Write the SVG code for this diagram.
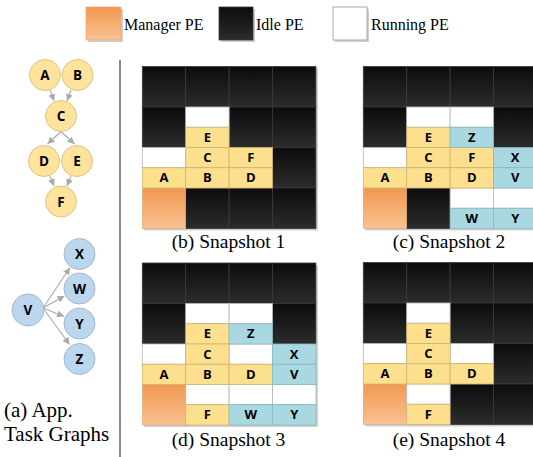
<svg xmlns="http://www.w3.org/2000/svg" width="533" height="457" viewBox="0 0 533 457">
<defs>
<linearGradient id="gIdle" x1="0" y1="0" x2="0" y2="1"><stop offset="0" stop-color="#0c0c0c"/><stop offset="1" stop-color="#2c2c2c"/></linearGradient>
<linearGradient id="gMgr" x1="0" y1="0" x2="0" y2="1"><stop offset="0" stop-color="#f29850"/><stop offset="1" stop-color="#f9c291"/></linearGradient>
<marker id="arr" markerUnits="userSpaceOnUse" markerWidth="8" markerHeight="8" refX="7" refY="3.5" orient="auto"><path d="M0,0 L7,3.5 L0,7 z" fill="#aaaaaa"/></marker>
</defs>
<style>
.idle{fill:url(#gIdle);stroke:#3a3a3a;stroke-width:0.8}
.mgr{fill:url(#gMgr);stroke:#d9a779;stroke-width:0.6}
.run{fill:#ffffff;stroke:#b5b5b5;stroke-width:0.8}
.yl{fill:#fde08e;stroke:#cdb571;stroke-width:0.8}
.bl{fill:#a9d8e1;stroke:#88b9c3;stroke-width:0.8}
.ct{font-family:"Open Sans","DejaVu Sans",sans-serif;font-weight:bold;font-size:13px;fill:#000;text-anchor:middle}
.nt{font-family:"Open Sans","DejaVu Sans",sans-serif;font-weight:bold;font-size:13.5px;fill:#000;text-anchor:middle}
.cap{font-family:"Liberation Serif","Times New Roman",serif;font-size:19.5px;fill:#000}
.lg{font-family:"Liberation Serif","Times New Roman",serif;font-size:16px;fill:#000}
.ny{fill:#fde39b;stroke:#dcc587;stroke-width:1}
.nb{fill:#bcd6ee;stroke:#a2b9cf;stroke-width:1}
.edge{stroke:#aaaaaa;stroke-width:1.1;fill:none;marker-end:url(#arr)}
.sh{fill:#cfcfcf}
</style>

<!-- legend -->
<g id="legend">
<rect class="sh" x="88" y="9" width="35" height="33"/>
<rect class="mgr" x="86" y="7" width="35" height="33"/>
<text class="lg" x="124" y="30">Manager PE</text>
<rect class="sh" x="221" y="9" width="34" height="33"/>
<rect class="idle" x="219" y="7" width="34" height="33"/>
<text class="lg" x="256" y="30">Idle PE</text>
<rect class="sh" x="335" y="9" width="34" height="33"/>
<rect x="333" y="7" width="34" height="33" fill="#fff" stroke="#aaaaaa" stroke-width="1"/>
<text class="lg" x="371" y="30">Running PE</text>
</g>

<line id="divider" x1="120" y1="60" x2="120" y2="457" stroke="#666" stroke-width="1.5"/>

<!-- task graph connectors -->
<g id="connectors">
<path class="edge" d="M50,90 L54,101"/>
<path class="edge" d="M71,90 L67,101"/>
<path class="edge" d="M61,131.5 L47.5,144"/>
<path class="edge" d="M61,131.5 L74.5,144"/>
<path class="edge" d="M50,176 L54,186"/>
<path class="edge" d="M71,176 L67,186"/>
<path class="edge" d="M43,308 L70,267.5"/>
<path class="edge" d="M43,308 L64.5,296"/>
<path class="edge" d="M43,308 L64,316.5"/>
<path class="edge" d="M43,308 L69.5,344.5"/>
</g>

<g id="nA"><circle class="ny" cx="45" cy="75" r="15.5"/><text class="nt" x="45" y="80">A</text></g>
<g id="nB"><circle class="ny" cx="77.5" cy="75" r="15.5"/><text class="nt" x="77.5" y="80">B</text></g>
<g id="nC"><circle class="ny" cx="61" cy="116" r="15.5"/><text class="nt" x="61" y="121">C</text></g>
<g id="nD"><circle class="ny" cx="44" cy="161" r="15.5"/><text class="nt" x="44" y="166">D</text></g>
<g id="nE"><circle class="ny" cx="77" cy="161" r="15.5"/><text class="nt" x="77" y="166">E</text></g>
<g id="nF"><circle class="ny" cx="61" cy="201.5" r="15.5"/><text class="nt" x="61" y="206.5">F</text></g>

<g id="nV"><circle class="nb" cx="28" cy="310" r="16"/><text class="nt" x="28" y="315">V</text></g>
<g id="nX"><circle class="nb" cx="79.5" cy="254" r="15.5"/><text class="nt" x="79.5" y="259">X</text></g>
<g id="nW"><circle class="nb" cx="79.5" cy="288.5" r="15.5"/><text class="nt" x="79.5" y="293.5">W</text></g>
<g id="nY"><circle class="nb" cx="79.5" cy="323.5" r="15.5"/><text class="nt" x="79.5" y="328.5">Y</text></g>
<g id="nZ"><circle class="nb" cx="79.5" cy="359" r="15.5"/><text class="nt" x="79.5" y="364">Z</text></g>

<text class="cap" x="4" y="417" style="font-size:21px">(a) App.</text>
<text class="cap" x="4" y="441" style="font-size:21px">Task Graphs</text>

<!-- Snapshot 1 -->
<g id="snap1" transform="translate(142.3,66.5)">
<rect class="sh" x="2" y="2" width="173.6" height="162"/>
<rect class="idle" x="0" y="0" width="43.4" height="40.5"/>
<rect class="idle" x="43.4" y="0" width="43.4" height="40.5"/>
<rect class="idle" x="86.8" y="0" width="43.4" height="40.5"/>
<rect class="idle" x="130.2" y="0" width="43.4" height="40.5"/>
<rect class="idle" x="0" y="40.5" width="43.4" height="40.5"/>
<rect class="idle" x="86.8" y="40.5" width="43.4" height="40.5"/>
<rect class="idle" x="130.2" y="40.5" width="43.4" height="40.5"/>
<rect class="idle" x="130.2" y="81" width="43.4" height="40.5"/>
<rect class="idle" x="43.4" y="121.5" width="43.4" height="40.5"/>
<rect class="idle" x="86.8" y="121.5" width="43.4" height="40.5"/>
<rect class="idle" x="130.2" y="121.5" width="43.4" height="40.5"/>
<rect class="mgr" x="0" y="121.5" width="43.4" height="40.5"/>
<rect class="run" x="43.4" y="40.5" width="43.4" height="20.25"/>
<rect class="run" x="0" y="81" width="43.4" height="20.25"/>
<rect class="yl" x="43.4" y="60.75" width="43.4" height="20.25"/><text class="ct" x="65.1" y="75.4">E</text>
<rect class="yl" x="0" y="101.25" width="43.4" height="20.25"/><text class="ct" x="21.7" y="115.9">A</text>
<rect class="yl" x="43.4" y="81" width="43.4" height="20.25"/><text class="ct" x="65.1" y="95.6">C</text>
<rect class="yl" x="43.4" y="101.25" width="43.4" height="20.25"/><text class="ct" x="65.1" y="115.9">B</text>
<rect class="yl" x="86.8" y="81" width="43.4" height="20.25"/><text class="ct" x="108.5" y="95.6">F</text>
<rect class="yl" x="86.8" y="101.25" width="43.4" height="20.25"/><text class="ct" x="108.5" y="115.9">D</text>
</g>
<text class="cap" x="228.5" y="248" text-anchor="middle">(b) Snapshot 1</text>

<!-- Snapshot 2 -->
<g id="snap2" transform="translate(363.3,66.5)">
<rect class="sh" x="2" y="2" width="173.6" height="162"/>
<rect class="idle" x="0" y="0" width="43.4" height="40.5"/>
<rect class="idle" x="43.4" y="0" width="43.4" height="40.5"/>
<rect class="idle" x="86.8" y="0" width="43.4" height="40.5"/>
<rect class="idle" x="130.2" y="0" width="43.4" height="40.5"/>
<rect class="idle" x="0" y="40.5" width="43.4" height="40.5"/>
<rect class="idle" x="130.2" y="40.5" width="43.4" height="40.5"/>
<rect class="idle" x="43.4" y="121.5" width="43.4" height="40.5"/>
<rect class="mgr" x="0" y="121.5" width="43.4" height="40.5"/>
<rect class="run" x="43.4" y="40.5" width="43.4" height="20.25"/>
<rect class="run" x="86.8" y="40.5" width="43.4" height="20.25"/>
<rect class="run" x="0" y="81" width="43.4" height="20.25"/>
<rect class="run" x="86.8" y="121.5" width="43.4" height="20.25"/>
<rect class="run" x="130.2" y="121.5" width="43.4" height="20.25"/>
<rect class="yl" x="43.4" y="60.75" width="43.4" height="20.25"/><text class="ct" x="65.1" y="75.4">E</text>
<rect class="yl" x="0" y="101.25" width="43.4" height="20.25"/><text class="ct" x="21.7" y="115.9">A</text>
<rect class="yl" x="43.4" y="81" width="43.4" height="20.25"/><text class="ct" x="65.1" y="95.6">C</text>
<rect class="yl" x="43.4" y="101.25" width="43.4" height="20.25"/><text class="ct" x="65.1" y="115.9">B</text>
<rect class="yl" x="86.8" y="81" width="43.4" height="20.25"/><text class="ct" x="108.5" y="95.6">F</text>
<rect class="yl" x="86.8" y="101.25" width="43.4" height="20.25"/><text class="ct" x="108.5" y="115.9">D</text>
<rect class="bl" x="86.8" y="60.75" width="43.4" height="20.25"/><text class="ct" x="108.5" y="75.4">Z</text>
<rect class="bl" x="130.2" y="81" width="43.4" height="20.25"/><text class="ct" x="151.9" y="95.6">X</text>
<rect class="bl" x="130.2" y="101.25" width="43.4" height="20.25"/><text class="ct" x="151.9" y="115.9">V</text>
<rect class="bl" x="86.8" y="141.75" width="43.4" height="20.25"/><text class="ct" x="108.5" y="156.4">W</text>
<rect class="bl" x="130.2" y="141.75" width="43.4" height="20.25"/><text class="ct" x="151.9" y="156.4">Y</text>
</g>
<text class="cap" x="449" y="248" text-anchor="middle">(c) Snapshot 2</text>

<!-- Snapshot 3 -->
<g id="snap3" transform="translate(142.3,263)">
<rect class="sh" x="2" y="2" width="173.6" height="162"/>
<rect class="idle" x="0" y="0" width="43.4" height="40.5"/>
<rect class="idle" x="43.4" y="0" width="43.4" height="40.5"/>
<rect class="idle" x="86.8" y="0" width="43.4" height="40.5"/>
<rect class="idle" x="130.2" y="0" width="43.4" height="40.5"/>
<rect class="idle" x="0" y="40.5" width="43.4" height="40.5"/>
<rect class="idle" x="130.2" y="40.5" width="43.4" height="40.5"/>
<rect class="mgr" x="0" y="121.5" width="43.4" height="40.5"/>
<rect class="run" x="43.4" y="40.5" width="43.4" height="20.25"/>
<rect class="run" x="86.8" y="40.5" width="43.4" height="20.25"/>
<rect class="run" x="0" y="81" width="43.4" height="20.25"/>
<rect class="run" x="86.8" y="81" width="43.4" height="20.25"/>
<rect class="run" x="43.4" y="121.5" width="43.4" height="20.25"/>
<rect class="run" x="86.8" y="121.5" width="43.4" height="20.25"/>
<rect class="run" x="130.2" y="121.5" width="43.4" height="20.25"/>
<rect class="yl" x="43.4" y="60.75" width="43.4" height="20.25"/><text class="ct" x="65.1" y="75.4">E</text>
<rect class="yl" x="0" y="101.25" width="43.4" height="20.25"/><text class="ct" x="21.7" y="115.9">A</text>
<rect class="yl" x="43.4" y="81" width="43.4" height="20.25"/><text class="ct" x="65.1" y="95.6">C</text>
<rect class="yl" x="43.4" y="101.25" width="43.4" height="20.25"/><text class="ct" x="65.1" y="115.9">B</text>
<rect class="yl" x="86.8" y="101.25" width="43.4" height="20.25"/><text class="ct" x="108.5" y="115.9">D</text>
<rect class="yl" x="43.4" y="141.75" width="43.4" height="20.25"/><text class="ct" x="65.1" y="156.4">F</text>
<rect class="bl" x="86.8" y="60.75" width="43.4" height="20.25"/><text class="ct" x="108.5" y="75.4">Z</text>
<rect class="bl" x="130.2" y="81" width="43.4" height="20.25"/><text class="ct" x="151.9" y="95.6">X</text>
<rect class="bl" x="130.2" y="101.25" width="43.4" height="20.25"/><text class="ct" x="151.9" y="115.9">V</text>
<rect class="bl" x="86.8" y="141.75" width="43.4" height="20.25"/><text class="ct" x="108.5" y="156.4">W</text>
<rect class="bl" x="130.2" y="141.75" width="43.4" height="20.25"/><text class="ct" x="151.9" y="156.4">Y</text>
</g>
<text class="cap" x="228.5" y="446" text-anchor="middle">(d) Snapshot 3</text>

<!-- Snapshot 4 -->
<g id="snap4" transform="translate(363.3,262.5)">
<rect class="sh" x="2" y="2" width="173.6" height="162"/>
<rect class="idle" x="0" y="0" width="43.4" height="40.5"/>
<rect class="idle" x="43.4" y="0" width="43.4" height="40.5"/>
<rect class="idle" x="86.8" y="0" width="43.4" height="40.5"/>
<rect class="idle" x="130.2" y="0" width="43.4" height="40.5"/>
<rect class="idle" x="0" y="40.5" width="43.4" height="40.5"/>
<rect class="idle" x="86.8" y="40.5" width="43.4" height="40.5"/>
<rect class="idle" x="130.2" y="40.5" width="43.4" height="40.5"/>
<rect class="idle" x="130.2" y="81" width="43.4" height="40.5"/>
<rect class="idle" x="86.8" y="121.5" width="43.4" height="40.5"/>
<rect class="idle" x="130.2" y="121.5" width="43.4" height="40.5"/>
<rect class="mgr" x="0" y="121.5" width="43.4" height="40.5"/>
<rect class="run" x="43.4" y="40.5" width="43.4" height="20.25"/>
<rect class="run" x="0" y="81" width="43.4" height="20.25"/>
<rect class="run" x="86.8" y="81" width="43.4" height="20.25"/>
<rect class="run" x="43.4" y="121.5" width="43.4" height="20.25"/>
<rect class="yl" x="43.4" y="60.75" width="43.4" height="20.25"/><text class="ct" x="65.1" y="75.4">E</text>
<rect class="yl" x="0" y="101.25" width="43.4" height="20.25"/><text class="ct" x="21.7" y="115.9">A</text>
<rect class="yl" x="43.4" y="81" width="43.4" height="20.25"/><text class="ct" x="65.1" y="95.6">C</text>
<rect class="yl" x="43.4" y="101.25" width="43.4" height="20.25"/><text class="ct" x="65.1" y="115.9">B</text>
<rect class="yl" x="86.8" y="101.25" width="43.4" height="20.25"/><text class="ct" x="108.5" y="115.9">D</text>
<rect class="yl" x="43.4" y="141.75" width="43.4" height="20.25"/><text class="ct" x="65.1" y="156.4">F</text>
</g>
<text class="cap" x="449" y="446" text-anchor="middle">(e) Snapshot 4</text>
</svg>
